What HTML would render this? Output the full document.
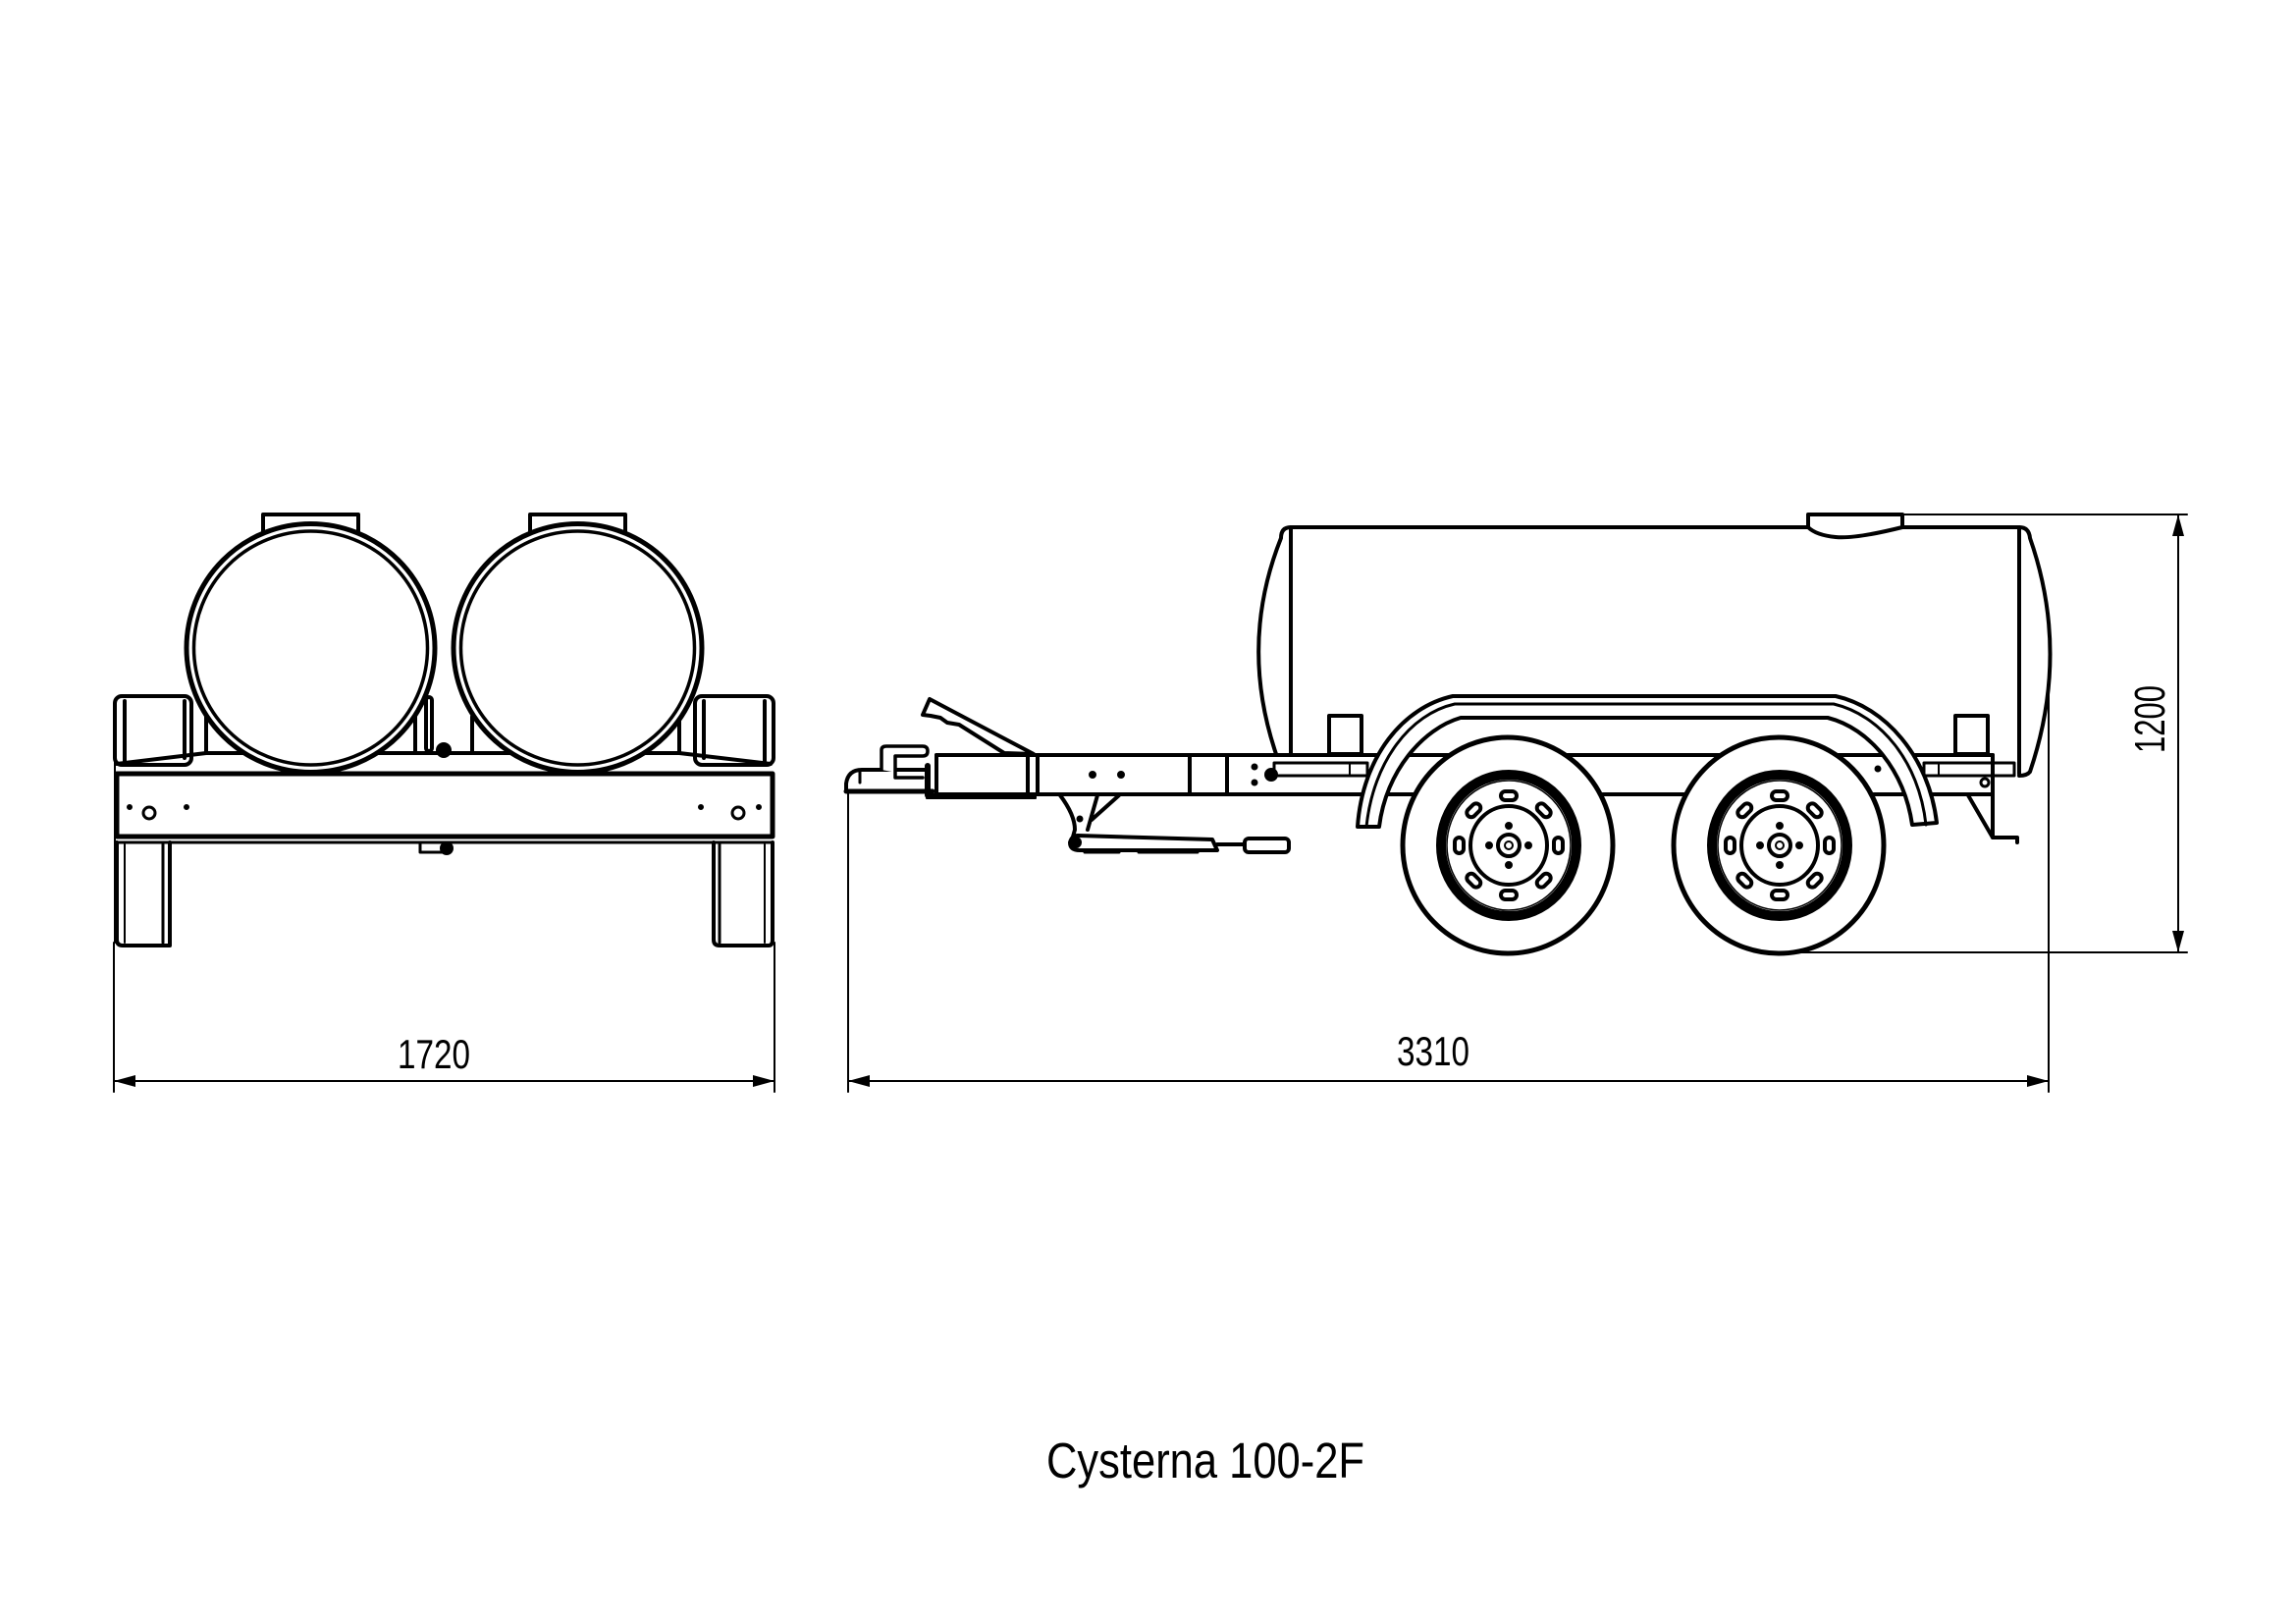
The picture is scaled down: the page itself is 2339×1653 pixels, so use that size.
<!DOCTYPE html>
<html><head><meta charset="utf-8"><style>
html,body{margin:0;padding:0;background:#fff;}
svg{display:block;}
text{font-family:"Liberation Sans",sans-serif;fill:#000;}
</style></head><body>
<svg width="2339" height="1653" viewBox="0 0 2339 1653" xmlns="http://www.w3.org/2000/svg">
<g fill="none" stroke="#000" stroke-width="4" stroke-linejoin="round" stroke-linecap="round">

<!-- ============ LEFT (REAR) VIEW ============ -->
<rect x="117" y="709" width="78" height="70" rx="7" fill="#fff"/>
<line x1="127" y1="714" x2="127" y2="778"/>
<line x1="188" y1="714" x2="188" y2="772"/>
<rect x="708" y="709" width="80" height="70" rx="7" fill="#fff"/>
<line x1="717" y1="714" x2="717" y2="772"/>
<line x1="779" y1="714" x2="779" y2="778"/>
<line x1="210" y1="730" x2="210" y2="767"/>
<line x1="423" y1="715" x2="423" y2="767"/>
<line x1="481" y1="730" x2="481" y2="767"/>
<line x1="692" y1="730" x2="692" y2="767"/>
<rect x="434" y="710" width="6" height="55" rx="3"/>
<circle cx="452" cy="764" r="6" fill="#000"/>
<path d="M119,778 L210,767 L692,767 L785,778" />
<rect x="119" y="788" width="668" height="64" fill="#fff" stroke-width="5"/>
<line x1="119" y1="858" x2="787" y2="858" stroke-width="3"/>
<line x1="117" y1="765" x2="117" y2="960" stroke-width="2"/>
<circle cx="132" cy="822" r="2.5" fill="#000" stroke-width="1"/>
<circle cx="152" cy="828" r="6" stroke-width="3"/>
<circle cx="190" cy="822" r="2.5" fill="#000" stroke-width="1"/>
<circle cx="714" cy="822" r="2.5" fill="#000" stroke-width="1"/>
<circle cx="752" cy="828" r="6" stroke-width="3"/>
<circle cx="773" cy="822" r="2.5" fill="#000" stroke-width="1"/>
<rect x="428" y="858" width="24" height="10" stroke-width="3"/>
<circle cx="455" cy="864" r="5" fill="#000"/>
<path d="M119,858 L119,957 Q119,963 125,963 L173,963 L173,858"/>
<line x1="127" y1="860" x2="127" y2="960" stroke-width="2"/>
<line x1="166" y1="860" x2="166" y2="960" stroke-width="3"/>
<path d="M727,858 L727,957 Q727,963 733,963 L783,963 Q787,963 787,957 L787,858"/>
<line x1="733" y1="860" x2="733" y2="960" stroke-width="3"/>
<line x1="779" y1="860" x2="779" y2="960" stroke-width="2"/>
<rect x="268" y="524" width="97" height="22" fill="#fff"/>
<rect x="540" y="524" width="97" height="22" fill="#fff"/>
<circle cx="316.5" cy="660" r="126.5" fill="#fff" stroke-width="5"/>
<circle cx="316.5" cy="660" r="119" stroke-width="3.5"/>
<circle cx="588.5" cy="660" r="126.5" fill="#fff" stroke-width="5"/>
<circle cx="588.5" cy="660" r="119" stroke-width="3.5"/>

<!-- ============ SIDE VIEW ============ -->
<path d="M1315,537 L2057,537" stroke-width="4"/>
<path d="M1315,537 Q1305,537 1305,548 Q1262,656 1300,768" />
<line x1="1315" y1="537" x2="1315" y2="768"/>
<path d="M2057,537 Q2067,537 2068,548 Q2109,665 2068,786 Q2065,790 2057,790"/>
<line x1="2057" y1="537" x2="2057" y2="788"/>
<path d="M1842,524 L1938,524 L1938,537 Q1890,549 1870,547 Q1850,545 1842,537 Z" fill="#fff"/>
<rect x="1354" y="729" width="33" height="39"/>
<rect x="1992" y="729" width="33" height="39"/>
<line x1="954" y1="769" x2="2030" y2="769"/>
<line x1="954" y1="809" x2="2030" y2="809"/>
<line x1="2030" y1="769" x2="2030" y2="809"/>
<rect x="1298" y="777" width="95" height="13" stroke-width="3"/>
<line x1="1375" y1="777" x2="1375" y2="790" stroke-width="2"/>
<rect x="1960" y="777" width="92" height="13" stroke-width="3"/>
<line x1="1975" y1="777" x2="1975" y2="790" stroke-width="2"/>
<circle cx="1278" cy="781" r="3" fill="#000" stroke-width="1"/>
<circle cx="1278" cy="797" r="3" fill="#000" stroke-width="1"/>
<circle cx="1295" cy="789" r="5" fill="#000"/>
<circle cx="1913" cy="783" r="3" fill="#000" stroke-width="1"/>
<circle cx="2022" cy="797" r="4" stroke-width="3"/>
<line x1="954" y1="769" x2="954" y2="809"/>
<line x1="1047" y1="769" x2="1047" y2="809"/>
<line x1="1057" y1="769" x2="1057" y2="809"/>
<line x1="1212" y1="769" x2="1212" y2="809"/>
<line x1="1250" y1="769" x2="1250" y2="809"/>
<circle cx="1113" cy="789" r="3.5" fill="#000" stroke-width="1"/>
<circle cx="1142" cy="789" r="3.5" fill="#000" stroke-width="1"/>
<path d="M944,809 L1055,809 L1055,813 L944,813 Z" fill="#000" stroke-width="2"/>
<path d="M940,728 L947,712 L1053,768 L1023,767 L977,738 L965,736 L958,731 L948,729 Z" fill="#fff"/>
<path d="M862,806 L862,798 Q864,784 878,784 L945,784 L945,806 Z" fill="#fff"/>
<line x1="862" y1="806" x2="950" y2="806" stroke-width="5"/>
<path d="M898,784 L898,764 Q898,760 903,760 L940,760 Q945,760 945,765 Q945,770 940,770 L912,770 L912,792 L940,792" fill="#fff" stroke-width="3.5"/>
<line x1="876" y1="786" x2="876" y2="797" stroke-width="3"/>
<line x1="945" y1="780" x2="945" y2="810" stroke-width="6"/>
<path d="M1080,810 Q1095,830 1095,845 L1092,856"/>
<path d="M1118,810 L1108,845 M1140,810 L1112,835"/>
<circle cx="1100" cy="834" r="3" fill="#000" stroke-width="1"/>
<path d="M1098,851 L1235,855 L1240,866 L1100,866 Q1090,866 1090,858 Q1092,851 1098,851 Z" fill="#fff"/>
<circle cx="1096" cy="858" r="4" fill="#000"/>
<line x1="1240" y1="860" x2="1268" y2="860"/>
<rect x="1268" y="854" width="45" height="14" rx="4" fill="#fff"/>
<line x1="1105" y1="868" x2="1140" y2="868" stroke-width="3"/>
<line x1="1160" y1="868" x2="1220" y2="868" stroke-width="3"/>
<path d="M2005,810 L2030,853 L2055,853 L2055,858"/>
<line x1="2030" y1="809" x2="2030" y2="853"/>
<path d="M1383,842 C1388,770 1430,720 1480,709 L1870,709 C1920,720 1965,770 1973,838 L1948,840 C1940,785 1905,742 1862,731 L1488,731 C1450,742 1412,785 1405,842 Z" fill="#fff"/>
<path d="M1392,842 C1399,775 1437,727 1482,717 L1868,717 C1915,728 1955,775 1962,840" stroke-width="3"/>
<g id="w1">
<ellipse cx="1536" cy="861" rx="107" ry="110" fill="#fff" stroke-width="5"/>
<ellipse cx="1537" cy="861" rx="69" ry="72" stroke-width="10"/>
<ellipse cx="1537" cy="861" rx="63" ry="66" stroke-width="1.5"/>
<ellipse cx="1537" cy="861" rx="39" ry="40" stroke-width="4"/>
<circle cx="1537" cy="861" r="11" stroke-width="4"/>
<circle cx="1537" cy="861" r="4" stroke-width="2"/>
<circle cx="1537" cy="841" r="3.5" fill="#000" stroke-width="1"/>
<circle cx="1537" cy="881" r="3.5" fill="#000" stroke-width="1"/>
<circle cx="1517" cy="861" r="3.5" fill="#000" stroke-width="1"/>
<circle cx="1557" cy="861" r="3.5" fill="#000" stroke-width="1"/>
<g stroke-width="4">
<rect x="1529" y="806" width="16" height="9" rx="4.5" transform="rotate(0 1537 861)"/>
<rect x="1529" y="806" width="16" height="9" rx="4.5" transform="rotate(45 1537 861)"/>
<rect x="1529" y="806" width="16" height="9" rx="4.5" transform="rotate(90 1537 861)"/>
<rect x="1529" y="806" width="16" height="9" rx="4.5" transform="rotate(135 1537 861)"/>
<rect x="1529" y="806" width="16" height="9" rx="4.5" transform="rotate(180 1537 861)"/>
<rect x="1529" y="806" width="16" height="9" rx="4.5" transform="rotate(225 1537 861)"/>
<rect x="1529" y="806" width="16" height="9" rx="4.5" transform="rotate(270 1537 861)"/>
<rect x="1529" y="806" width="16" height="9" rx="4.5" transform="rotate(315 1537 861)"/>
</g>
</g>
<use href="#w1" transform="translate(276 0)"/>

<g stroke-width="2">
<line x1="116" y1="960" x2="116" y2="1112"/>
<line x1="789" y1="960" x2="789" y2="1112"/>
<line x1="116" y1="1101" x2="789" y2="1101"/>
<line x1="864" y1="808" x2="864" y2="1112"/>
<line x1="2087" y1="700" x2="2087" y2="1112"/>
<line x1="864" y1="1101" x2="2087" y2="1101"/>
<line x1="1938" y1="524" x2="2228" y2="524"/>
<line x1="1826" y1="970" x2="2228" y2="970"/>
<line x1="2219" y1="524" x2="2219" y2="970"/>
</g>
</g>
<g fill="#000">
<path d="M116,1101 L138,1095 L138,1107 Z"/>
<path d="M789,1101 L767,1095 L767,1107 Z"/>
<path d="M864,1101 L886,1095 L886,1107 Z"/>
<path d="M2087,1101 L2065,1095 L2065,1107 Z"/>
<path d="M2219,524 L2213,546 L2225,546 Z"/>
<path d="M2219,970 L2213,948 L2225,948 Z"/>
</g>
<text x="405" y="1088" font-size="42" textLength="74" lengthAdjust="spacingAndGlyphs">1720</text>
<text x="1423" y="1085" font-size="42" textLength="74" lengthAdjust="spacingAndGlyphs">3310</text>
<text x="0" y="0" font-size="44" textLength="69" lengthAdjust="spacingAndGlyphs" transform="translate(2205 767) rotate(-90)">1200</text>
<text x="1066" y="1505" font-size="51" textLength="324" lengthAdjust="spacingAndGlyphs">Cysterna 100-2F</text>
</svg>
</body></html>
